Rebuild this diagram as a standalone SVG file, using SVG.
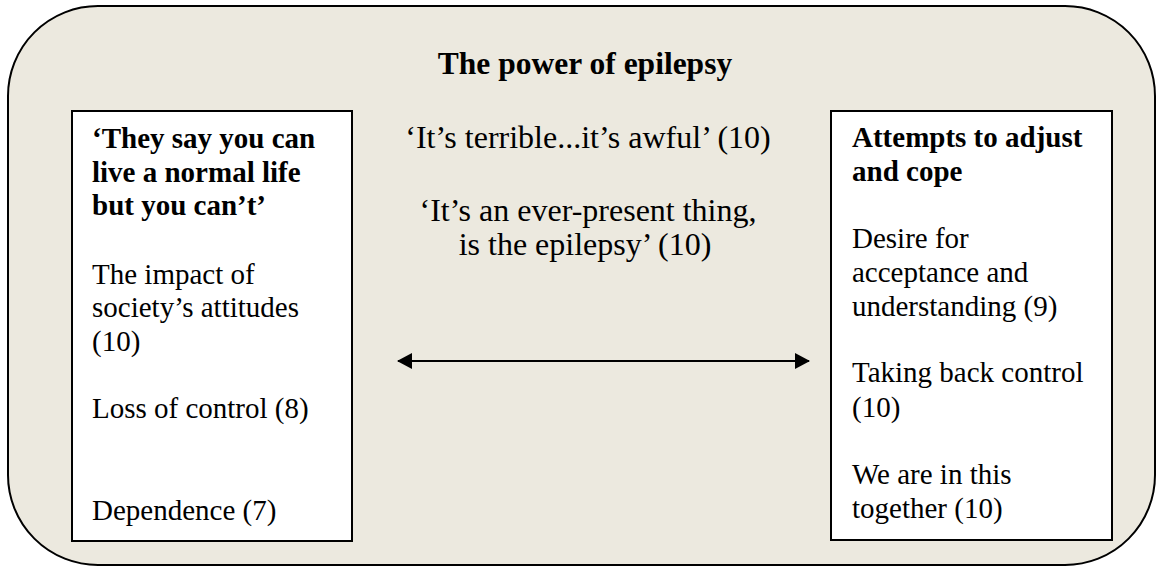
<svg xmlns="http://www.w3.org/2000/svg" width="1157" height="567" viewBox="0 0 1157 567">
<style>
.t{font-size:29px;fill:#000}
.m{font-size:32px}
.h{font-size:31.5px}
.b{font-weight:bold}
.box{fill:#fff;stroke:#000;stroke-width:2}
</style>
<defs>
<marker id="ah" markerWidth="16" markerHeight="16" refX="14" refY="8" orient="auto-start-reverse" markerUnits="userSpaceOnUse">
<path d="M0,0 L15,8 L0,16 Z" fill="#000"/>
</marker>
</defs>
<g font-family="Liberation Serif, DejaVu Serif, serif">
<g id="outer">
<rect x="8" y="6" width="1147" height="559" rx="90" ry="90" fill="#ECE9DF" stroke="#000" stroke-width="2"/>
<text class="t b h" x="585" y="74" text-anchor="middle">The power of epilepsy</text>
</g>
<g id="center">
<text class="t m" x="588" y="148" text-anchor="middle">‘It’s terrible...it’s awful’ (10)</text>
<text class="t m" x="588" y="221" text-anchor="middle">‘It’s an ever-present thing,</text>
<text class="t m" x="585" y="255" text-anchor="middle">is the epilepsy’ (10)</text>
</g>
<g id="left">
<rect class="box" x="72" y="111" width="280" height="430"/>
<text class="t b" x="92" y="148">‘They say you can</text>
<text class="t b" x="92" y="182">live a normal life</text>
<text class="t b" x="92" y="215">but you can’t’</text>
<text class="t" x="92" y="284">The impact of</text>
<text class="t" x="92" y="317">society’s attitudes</text>
<text class="t" x="92" y="351">(10)</text>
<text class="t" x="92" y="418">Loss of control (8)</text>
<text class="t" x="92" y="520">Dependence (7)</text>
</g>
<g id="right">
<rect class="box" x="831" y="111" width="281" height="429"/>
<text class="t b" x="852" y="147">Attempts to adjust</text>
<text class="t b" x="852" y="181">and cope</text>
<text class="t" x="852" y="248">Desire for</text>
<text class="t" x="852" y="282">acceptance and</text>
<text class="t" x="852" y="316">understanding (9)</text>
<text class="t" x="852" y="382">Taking back control</text>
<text class="t" x="852" y="417">(10)</text>
<text class="t" x="852" y="484">We are in this</text>
<text class="t" x="852" y="518">together (10)</text>
</g>
<g id="connectors">
<line x1="398" y1="361" x2="809" y2="361" stroke="#000" stroke-width="2" marker-start="url(#ah)" marker-end="url(#ah)"/>
</g>
</g>
</svg>
